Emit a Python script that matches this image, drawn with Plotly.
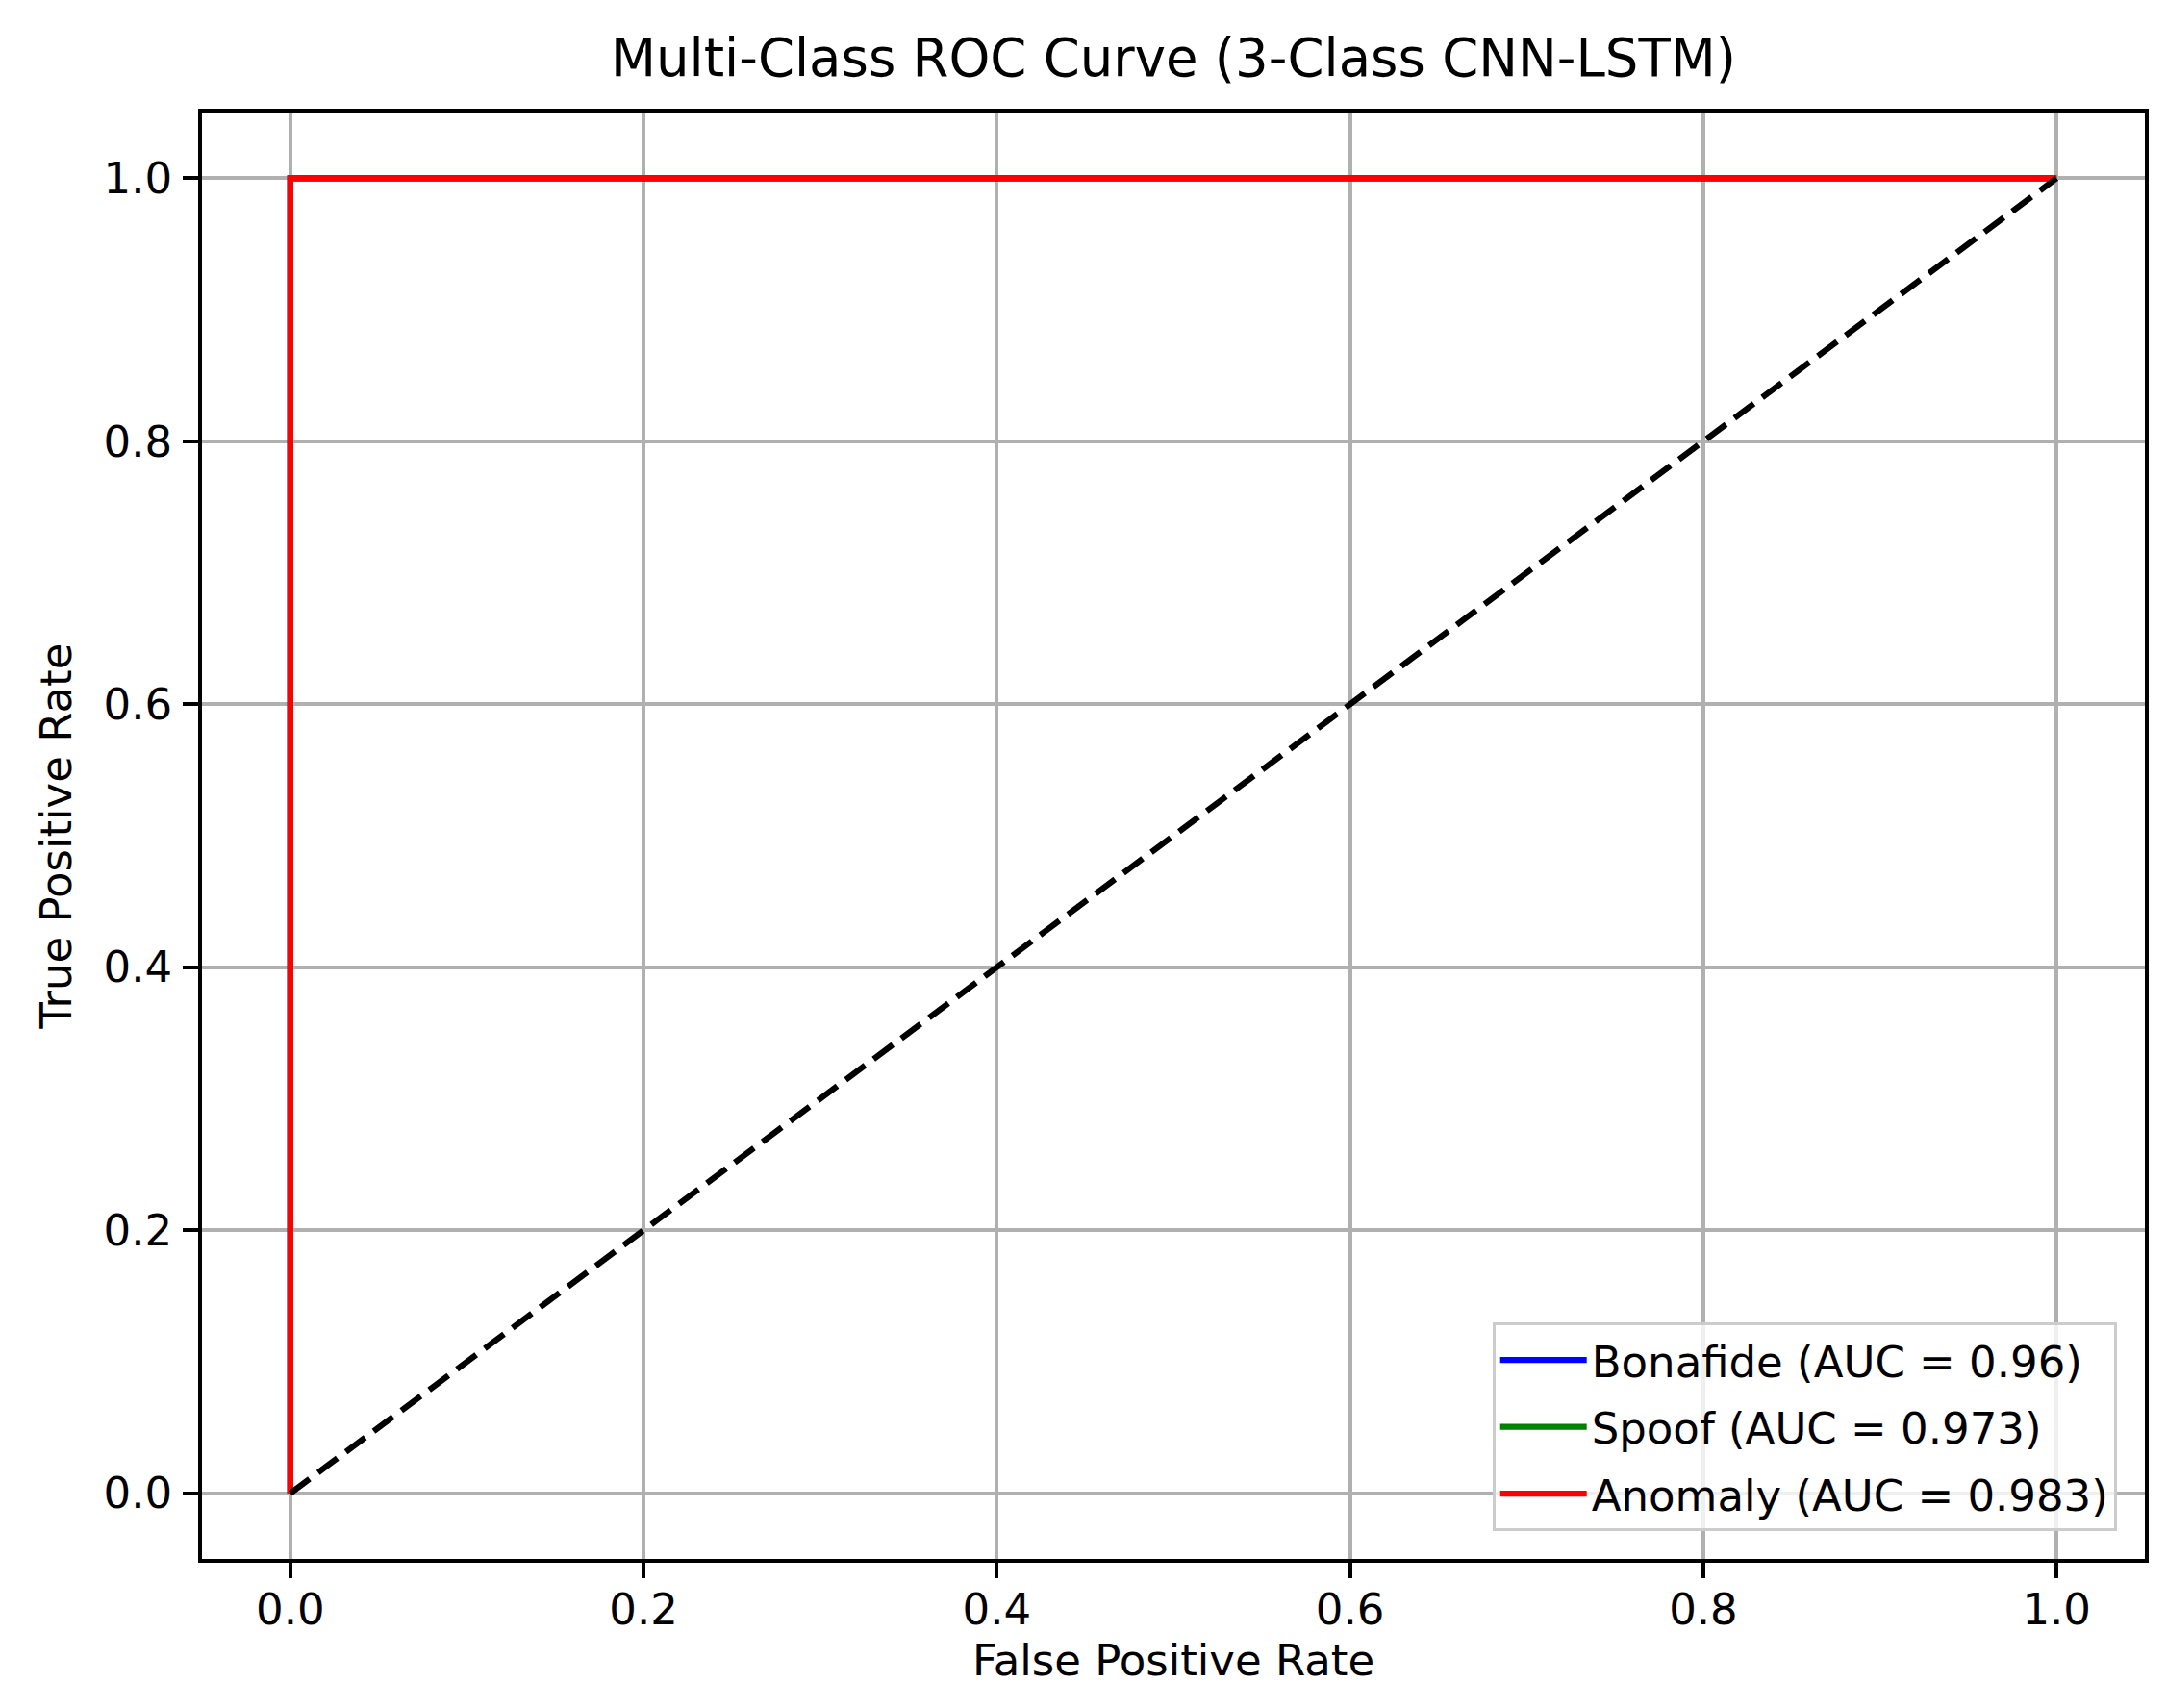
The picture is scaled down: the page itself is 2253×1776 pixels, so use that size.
import plotly.graph_objects as go

# ---- data ----
class_names = ["Bonafide", "Spoof", "Anomaly"]
class_auc = ["0.96", "0.973", "0.983"]
class_colors = ["#0000ff", "#008000", "#ff0000"]

fpr_bonafide = [0.0, 0.0, 1.0]
tpr_bonafide = [0.0, 1.0, 1.0]
fpr_spoof = [0.0, 0.0, 1.0]
tpr_spoof = [0.0, 1.0, 1.0]
fpr_anomaly = [0.0, 0.0, 1.0]
tpr_anomaly = [0.0, 1.0, 1.0]

chance_x = [0.0, 1.0]
chance_y = [0.0, 1.0]

tick_vals = [0.0, 0.2, 0.4, 0.6, 0.8, 1.0]
tick_text = ["0.0", "0.2", "0.4", "0.6", "0.8", "1.0"]

fprs = [fpr_bonafide, fpr_spoof, fpr_anomaly]
tprs = [tpr_bonafide, tpr_spoof, tpr_anomaly]

FONT = "DejaVu Sans"
W, H = 2253, 1776
ML, MR, MT, MB = 202, 31, 109, 163
LW = 6.2
SP = 3.6

fig = go.Figure()
for name, auc, col, fx, ty in zip(class_names, class_auc, class_colors, fprs, tprs):
    fig.add_trace(go.Scatter(
        x=fx, y=ty, mode="lines",
        name=f"{name} (AUC = {auc})",
        legendgroup=name,
        line=dict(color=col, width=LW),
    ))

fig.add_trace(go.Scatter(
    x=chance_x, y=chance_y, mode="lines", showlegend=False,
    line=dict(color="black", width=LW, dash="25px,11px"),
))

axis_common = dict(
    range=[-0.05, 1.05],
    tickmode="array",
    tickvals=tick_vals,
    ticktext=tick_text,
    ticks="outside",
    ticklen=16,
    tickwidth=SP,
    tickcolor="black",
    showline=True,
    linecolor="black",
    linewidth=SP,
    mirror=True,
    showgrid=True,
    gridcolor="#b0b0b0",
    gridwidth=SP,
    zeroline=False,
    tickfont=dict(family=FONT, size=45, color="black"),
    automargin=False,
)

fig.update_xaxes(**axis_common,
                 title=dict(text="False Positive Rate",
                            font=dict(family=FONT, size=45, color="black"),
                            standoff=0),
                 ticklabelstandoff=-6)
fig.update_yaxes(**axis_common,
                 title=dict(text="True Positive Rate",
                            font=dict(family=FONT, size=45, color="black"),
                            standoff=20),
                 ticklabelstandoff=2)

fig.update_layout(
    width=W, height=H,
    margin=dict(l=ML, r=MR, t=MT, b=MB, pad=0),
    paper_bgcolor="white",
    plot_bgcolor="white",
    font=dict(family=FONT, size=45, color="black"),
    title=dict(text="Multi-Class ROC Curve (3-Class CNN-LSTM)",
               font=dict(family=FONT, size=54.5, color="black"),
               x=0.5, xref="paper", xanchor="center",
               y=1 - 52 / H, yref="container", yanchor="middle"),
    legend=dict(
        x=0.9855, y=0.019, xanchor="right", yanchor="bottom",
        bgcolor="rgba(255,255,255,0.8)",
        bordercolor="#cccccc", borderwidth=3,
        font=dict(family=FONT, size=45, color="black"),
        itemwidth=90,
        tracegroupgap=8,
    ),
)

fig.write_html("out.html")
